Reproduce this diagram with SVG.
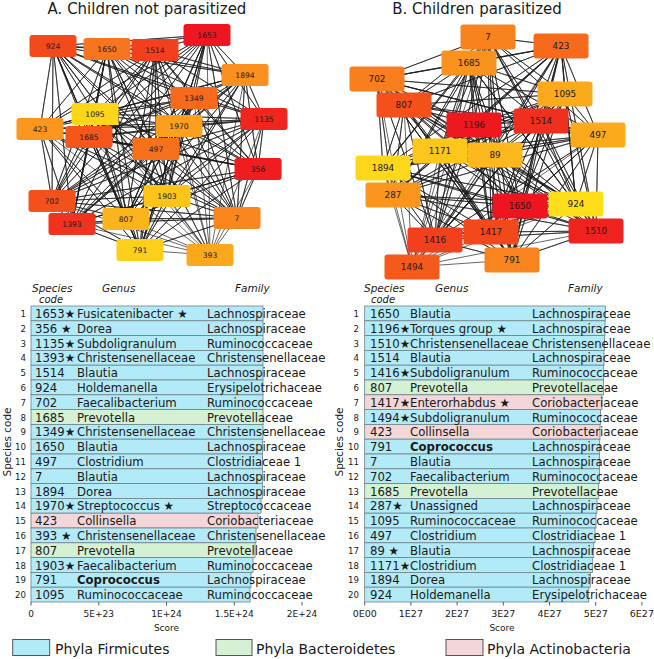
<svg xmlns="http://www.w3.org/2000/svg" width="654" height="659" viewBox="0 0 654 659">
<style>
text{font-family:"DejaVu Sans","Liberation Sans",sans-serif;fill:#1a1a1a}
.title{font-size:15px;text-anchor:middle}
.edges path{fill:none;stroke:#1a1a1a;stroke-width:0.85;stroke-opacity:0.78;stroke-linejoin:round}
.na text{font-size:7.6px;text-anchor:middle}
.nb text{font-size:8.8px;text-anchor:middle}
.hd{font-size:10.5px;font-style:italic}
.hc{font-size:10px;font-style:italic;text-anchor:middle}
.rn{font-size:8.6px;text-anchor:end}
.c{font-size:11.7px}
.b{font-size:11.7px;font-weight:bold}
.ax{font-size:9px;text-anchor:middle}
.axb{font-size:9.5px;text-anchor:middle}
.yl{font-size:10.5px;text-anchor:middle}
.lg{font-size:14px}
.fi{fill:#b3eaf8;stroke:#6f8186;stroke-width:0.8}
.ba{fill:#d5f1d3;stroke:#6f8186;stroke-width:0.8}
.ac{fill:#f2d6d8;stroke:#6f8186;stroke-width:0.8}
.lb{stroke:#555;stroke-width:1}
.tk{stroke:#333;stroke-width:0.8}
</style>

<text class="title" x="147" y="14">A. Children not parasitized</text>
<text class="title" x="477" y="14">B. Children parasitized</text>

<g id="edges-a" class="edges">
<path d="M53 46L107 49 53 46 155 50 53 46 207 35 53 46 245 75 53 46 194 98 53 46 95 114 53 46 264 119 53 46 40 129 53 46 179 126 53 46 89 137 53 46 156 149 53 46 258 169 53 46 167 196 53 46 52 201 53 46 126 219 53 46 237 218 53 46 72 224 53 46 140 250 53 46 210 255"/>
<path d="M107 49L155 50 107 49 207 35 107 49 245 75 107 49 194 98 107 49 95 114 107 49 264 119 107 49 40 129 107 49 179 126 107 49 89 137 107 49 156 149 107 49 258 169 107 49 167 196 107 49 52 201 107 49 126 219 107 49 237 218 107 49 72 224 107 49 140 250 107 49 210 255"/>
<path d="M155 50L207 35 155 50 245 75 155 50 194 98 155 50 95 114 155 50 264 119 155 50 40 129 155 50 179 126 155 50 89 137 155 50 156 149 155 50 258 169 155 50 167 196 155 50 52 201 155 50 126 219 155 50 237 218 155 50 72 224 155 50 140 250 155 50 210 255"/>
<path d="M207 35L245 75 207 35 194 98 207 35 95 114 207 35 264 119 207 35 40 129 207 35 179 126 207 35 89 137 207 35 156 149 207 35 258 169 207 35 167 196 207 35 52 201 207 35 126 219 207 35 237 218 207 35 72 224 207 35 140 250 207 35 210 255"/>
<path d="M245 75L194 98 245 75 95 114 245 75 264 119 245 75 40 129 245 75 179 126 245 75 89 137 245 75 156 149 245 75 258 169 245 75 167 196 245 75 52 201 245 75 126 219 245 75 237 218 245 75 72 224 245 75 140 250 245 75 210 255"/>
<path d="M194 98L95 114 194 98 264 119 194 98 40 129 194 98 179 126 194 98 89 137 194 98 156 149 194 98 258 169 194 98 167 196 194 98 52 201 194 98 126 219 194 98 237 218 194 98 72 224 194 98 140 250 194 98 210 255"/>
<path d="M95 114L264 119 95 114 40 129 95 114 179 126 95 114 89 137 95 114 156 149 95 114 258 169 95 114 167 196 95 114 52 201 95 114 126 219 95 114 237 218 95 114 72 224 95 114 140 250 95 114 210 255"/>
<path d="M264 119L40 129 264 119 179 126 264 119 89 137 264 119 156 149 264 119 258 169 264 119 167 196 264 119 52 201 264 119 126 219 264 119 237 218 264 119 72 224 264 119 140 250 264 119 210 255"/>
<path d="M40 129L179 126 40 129 89 137 40 129 156 149 40 129 258 169 40 129 167 196 40 129 52 201 40 129 126 219 40 129 237 218 40 129 72 224 40 129 140 250 40 129 210 255"/>
<path d="M179 126L89 137 179 126 156 149 179 126 258 169 179 126 167 196 179 126 52 201 179 126 126 219 179 126 237 218 179 126 72 224 179 126 140 250 179 126 210 255"/>
<path d="M89 137L156 149 89 137 258 169 89 137 167 196 89 137 52 201 89 137 126 219 89 137 237 218 89 137 72 224 89 137 140 250 89 137 210 255"/>
<path d="M156 149L258 169 156 149 167 196 156 149 52 201 156 149 126 219 156 149 237 218 156 149 72 224 156 149 140 250 156 149 210 255"/>
<path d="M258 169L167 196 258 169 52 201 258 169 126 219 258 169 237 218 258 169 72 224 258 169 140 250 258 169 210 255"/>
<path d="M167 196L52 201 167 196 126 219 167 196 237 218 167 196 72 224 167 196 140 250 167 196 210 255"/>
<path d="M52 201L126 219 52 201 237 218 52 201 72 224 52 201 140 250 52 201 210 255"/>
<path d="M126 219L237 218 126 219 72 224 126 219 140 250 126 219 210 255"/>
<path d="M237 218L72 224 237 218 140 250 237 218 210 255"/>
<path d="M72 224L140 250 72 224 210 255M140 250L210 255"/>
</g>

<g id="edges-b" class="edges">
<path d="M488 37L561 46 488 37 469 63 488 37 377 79 488 37 565 94 488 37 404 105 488 37 474 125 488 37 541 121 488 37 598 135 488 37 440 151 488 37 495 155 488 37 383 168 488 37 393 195 488 37 520 206 488 37 576 204 488 37 596 231 488 37 491 232 488 37 435 240 488 37 512 260 488 37 412 267"/>
<path d="M561 46L469 63 561 46 377 79 561 46 565 94 561 46 404 105 561 46 474 125 561 46 541 121 561 46 598 135 561 46 440 151 561 46 495 155 561 46 383 168 561 46 393 195 561 46 520 206 561 46 576 204 561 46 596 231 561 46 491 232 561 46 435 240 561 46 512 260 561 46 412 267"/>
<path d="M469 63L377 79 469 63 565 94 469 63 404 105 469 63 474 125 469 63 541 121 469 63 598 135 469 63 440 151 469 63 495 155 469 63 383 168 469 63 393 195 469 63 520 206 469 63 576 204 469 63 596 231 469 63 491 232 469 63 435 240 469 63 512 260 469 63 412 267"/>
<path d="M377 79L565 94 377 79 404 105 377 79 474 125 377 79 541 121 377 79 598 135 377 79 440 151 377 79 495 155 377 79 383 168 377 79 393 195 377 79 520 206 377 79 576 204 377 79 596 231 377 79 491 232 377 79 435 240 377 79 512 260 377 79 412 267"/>
<path d="M565 94L404 105 565 94 474 125 565 94 541 121 565 94 598 135 565 94 440 151 565 94 495 155 565 94 383 168 565 94 393 195 565 94 520 206 565 94 576 204 565 94 596 231 565 94 491 232 565 94 435 240 565 94 512 260 565 94 412 267"/>
<path d="M404 105L474 125 404 105 541 121 404 105 598 135 404 105 440 151 404 105 495 155 404 105 383 168 404 105 393 195 404 105 520 206 404 105 576 204 404 105 596 231 404 105 491 232 404 105 435 240 404 105 512 260 404 105 412 267"/>
<path d="M474 125L541 121 474 125 598 135 474 125 440 151 474 125 495 155 474 125 383 168 474 125 393 195 474 125 520 206 474 125 576 204 474 125 596 231 474 125 491 232 474 125 435 240 474 125 512 260 474 125 412 267"/>
<path d="M541 121L598 135 541 121 440 151 541 121 495 155 541 121 383 168 541 121 393 195 541 121 520 206 541 121 576 204 541 121 596 231 541 121 491 232 541 121 435 240 541 121 512 260 541 121 412 267"/>
<path d="M598 135L440 151 598 135 495 155 598 135 383 168 598 135 393 195 598 135 520 206 598 135 576 204 598 135 596 231 598 135 491 232 598 135 435 240 598 135 512 260 598 135 412 267"/>
<path d="M440 151L495 155 440 151 383 168 440 151 393 195 440 151 520 206 440 151 576 204 440 151 596 231 440 151 491 232 440 151 435 240 440 151 512 260 440 151 412 267"/>
<path d="M495 155L383 168 495 155 393 195 495 155 520 206 495 155 576 204 495 155 596 231 495 155 491 232 495 155 435 240 495 155 512 260 495 155 412 267"/>
<path d="M383 168L393 195 383 168 520 206 383 168 576 204 383 168 596 231 383 168 491 232 383 168 435 240 383 168 512 260 383 168 412 267"/>
<path d="M393 195L520 206 393 195 576 204 393 195 596 231 393 195 491 232 393 195 435 240 393 195 512 260 393 195 412 267"/>
<path d="M520 206L576 204 520 206 596 231 520 206 491 232 520 206 435 240 520 206 512 260 520 206 412 267"/>
<path d="M576 204L596 231 576 204 491 232 576 204 435 240 576 204 512 260 576 204 412 267"/>
<path d="M596 231L491 232 596 231 435 240 596 231 512 260 596 231 412 267"/>
<path d="M491 232L435 240 491 232 512 260 491 232 412 267"/>
<path d="M435 240L512 260 435 240 412 267M512 260L412 267"/>
</g>

<defs>
<rect id="ra" x="-23.5" y="-11" width="47" height="22" rx="3"/>
<rect id="rb" x="-27.5" y="-12.5" width="55" height="25" rx="3"/>
</defs>

<g class="na">
<g id="a924" transform="translate(53,46)"><use href="#ra" fill="#f34a1c"/><text y="2.7">924</text></g>
<g id="a1650" transform="translate(107,49)"><use href="#ra" fill="#f87520"/><text y="2.7">1650</text></g>
<g id="a1514" transform="translate(155,50)"><use href="#ra" fill="#f2401e"/><text y="2.7">1514</text></g>
<g id="a1653" transform="translate(207,35)"><use href="#ra" fill="#ee1620"/><text y="2.7">1653</text></g>
<g id="a1894" transform="translate(245,75)"><use href="#ra" fill="#fb9020"/><text y="2.7">1894</text></g>
<g id="a1349" transform="translate(194,98)"><use href="#ra" fill="#f76a1c"/><text y="2.7">1349</text></g>
<g id="a1095" transform="translate(95,114)"><use href="#ra" fill="#fdd61a"/><text y="2.7">1095</text></g>
<g id="a1135" transform="translate(264,119)"><use href="#ra" fill="#f0261e"/><text y="2.7">1135</text></g>
<g id="a423" transform="translate(40,129)"><use href="#ra" fill="#fb961e"/><text y="2.7">423</text></g>
<g id="a1970" transform="translate(179,126)"><use href="#ra" fill="#fc9f1c"/><text y="2.7">1970</text></g>
<g id="a1685" transform="translate(89,137)"><use href="#ra" fill="#f5561c"/><text y="2.7">1685</text></g>
<g id="a497" transform="translate(156,149)"><use href="#ra" fill="#f7701c"/><text y="2.7">497</text></g>
<g id="a356" transform="translate(258,169)"><use href="#ra" fill="#ef1c20"/><text y="2.7">356</text></g>
<g id="a1903" transform="translate(167,196)"><use href="#ra" fill="#fdc51a"/><text y="2.7">1903</text></g>
<g id="a702" transform="translate(52,201)"><use href="#ra" fill="#f4501c"/><text y="2.7">702</text></g>
<g id="a807" transform="translate(126,219)"><use href="#ra" fill="#fcb41c"/><text y="2.7">807</text></g>
<g id="a7" transform="translate(237,218)"><use href="#ra" fill="#fa861e"/><text y="2.7">7</text></g>
<g id="a1393" transform="translate(72,224)"><use href="#ra" fill="#f0321e"/><text y="2.7">1393</text></g>
<g id="a791" transform="translate(140,250)"><use href="#ra" fill="#fdcf1a"/><text y="2.7">791</text></g>
<g id="a393" transform="translate(210,255)"><use href="#ra" fill="#fca81c"/><text y="2.7">393</text></g>
</g>

<g class="nb">
<g id="b7" transform="translate(488,37)"><use href="#rb" fill="#f9821e"/><text y="3.1">7</text></g>
<g id="b423" transform="translate(561,46)"><use href="#rb" fill="#f76a1c"/><text y="3.1">423</text></g>
<g id="b1685" transform="translate(469,63)"><use href="#rb" fill="#fa921e"/><text y="3.1">1685</text></g>
<g id="b702" transform="translate(377,79)"><use href="#rb" fill="#f97e1e"/><text y="3.1">702</text></g>
<g id="b1095" transform="translate(565,94)"><use href="#rb" fill="#fbaa1c"/><text y="3.1">1095</text></g>
<g id="b807" transform="translate(404,105)"><use href="#rb" fill="#f4501c"/><text y="3.1">807</text></g>
<g id="b1196" transform="translate(474,125)"><use href="#rb" fill="#ee1820"/><text y="3.1">1196</text></g>
<g id="b1514" transform="translate(541,121)"><use href="#rb" fill="#f0301e"/><text y="3.1">1514</text></g>
<g id="b497" transform="translate(598,135)"><use href="#rb" fill="#fbaa1c"/><text y="3.1">497</text></g>
<g id="b1171" transform="translate(440,151)"><use href="#rb" fill="#fcc61a"/><text y="3.1">1171</text></g>
<g id="b89" transform="translate(495,155)"><use href="#rb" fill="#fcb81c"/><text y="3.1">89</text></g>
<g id="b1894" transform="translate(383,168)"><use href="#rb" fill="#fdd81a"/><text y="3.1">1894</text></g>
<g id="b287" transform="translate(393,195)"><use href="#rb" fill="#fa961e"/><text y="3.1">287</text></g>
<g id="b1650" transform="translate(520,206)"><use href="#rb" fill="#ee1420"/><text y="3.1">1650</text></g>
<g id="b924" transform="translate(576,204)"><use href="#rb" fill="#fede18"/><text y="3.1">924</text></g>
<g id="b1510" transform="translate(596,231)"><use href="#rb" fill="#ef2220"/><text y="3.1">1510</text></g>
<g id="b1417" transform="translate(491,232)"><use href="#rb" fill="#f3481c"/><text y="3.1">1417</text></g>
<g id="b1416" transform="translate(435,240)"><use href="#rb" fill="#f2401e"/><text y="3.1">1416</text></g>
<g id="b791" transform="translate(512,260)"><use href="#rb" fill="#f9841e"/><text y="3.1">791</text></g>
<g id="b1494" transform="translate(412,267)"><use href="#rb" fill="#f55a1c"/><text y="3.1">1494</text></g>
</g>

<g id="table-a">
<text class="hd" x="32" y="292">Species</text>
<text class="hc" x="51" y="303">code</text>
<text class="hd" x="102" y="292">Genus</text>
<text class="hd" x="235" y="292">Family</text>
<rect class="fi" x="31" y="306" width="232" height="14.8"/>
<rect class="fi" x="31" y="320.8" width="232" height="14.8"/>
<rect class="fi" x="31" y="335.6" width="232" height="14.8"/>
<rect class="fi" x="31" y="350.4" width="232" height="14.8"/>
<rect class="fi" x="31" y="365.2" width="232" height="14.8"/>
<rect class="fi" x="31" y="380" width="232" height="14.8"/>
<rect class="fi" x="31" y="394.8" width="232" height="14.8"/>
<rect class="ba" x="31" y="409.6" width="232" height="14.8"/>
<rect class="fi" x="31" y="424.4" width="232" height="14.8"/>
<rect class="fi" x="31" y="439.2" width="231.5" height="14.8"/>
<rect class="fi" x="31" y="454" width="231.5" height="14.8"/>
<rect class="fi" x="31" y="468.8" width="231.5" height="14.8"/>
<rect class="fi" x="31" y="483.6" width="231.5" height="14.8"/>
<rect class="fi" x="31" y="498.4" width="230" height="14.8"/>
<rect class="ac" x="31" y="513.2" width="227" height="14.8"/>
<rect class="fi" x="31" y="528" width="225" height="14.8"/>
<rect class="ba" x="31" y="542.8" width="224" height="14.8"/>
<rect class="fi" x="31" y="557.6" width="222" height="14.8"/>
<rect class="fi" x="31" y="572.4" width="220" height="14.8"/>
<rect class="fi" x="31" y="587.2" width="219" height="14.8"/>

<text class="rn" x="26" y="317">1</text><text class="c" x="35" y="318">1653★</text><text class="c" x="77" y="318">Fusicatenibacter ★</text><text class="c" x="207" y="318">Lachnospiraceae</text>
<text class="rn" x="26" y="331.8">2</text><text class="c" x="35" y="332.8">356 ★</text><text class="c" x="77" y="332.8">Dorea</text><text class="c" x="207" y="332.8">Lachnospiraceae</text>
<text class="rn" x="26" y="346.6">3</text><text class="c" x="35" y="347.6">1135★</text><text class="c" x="77" y="347.6">Subdoligranulum</text><text class="c" x="207" y="347.6">Ruminococcaceae</text>
<text class="rn" x="26" y="361.4">4</text><text class="c" x="35" y="362.4">1393★</text><text class="c" x="77" y="362.4">Christensenellaceae</text><text class="c" x="207" y="362.4">Christensenellaceae</text>
<text class="rn" x="26" y="376.2">5</text><text class="c" x="35" y="377.2">1514</text><text class="c" x="77" y="377.2">Blautia</text><text class="c" x="207" y="377.2">Lachnospiraceae</text>
<text class="rn" x="26" y="391">6</text><text class="c" x="35" y="392">924</text><text class="c" x="77" y="392">Holdemanella</text><text class="c" x="207" y="392">Erysipelotrichaceae</text>
<text class="rn" x="26" y="405.8">7</text><text class="c" x="35" y="406.8">702</text><text class="c" x="77" y="406.8">Faecalibacterium</text><text class="c" x="207" y="406.8">Ruminococcaceae</text>
<text class="rn" x="26" y="420.6">8</text><text class="c" x="35" y="421.6">1685</text><text class="c" x="77" y="421.6">Prevotella</text><text class="c" x="207" y="421.6">Prevotellaceae</text>
<text class="rn" x="26" y="435.4">9</text><text class="c" x="35" y="436.4">1349★</text><text class="c" x="77" y="436.4">Christensenellaceae</text><text class="c" x="207" y="436.4">Christensenellaceae</text>
<text class="rn" x="26" y="450.2">10</text><text class="c" x="35" y="451.2">1650</text><text class="c" x="77" y="451.2">Blautia</text><text class="c" x="207" y="451.2">Lachnospiraceae</text>
<text class="rn" x="26" y="465">11</text><text class="c" x="35" y="466">497</text><text class="c" x="77" y="466">Clostridium</text><text class="c" x="207" y="466">Clostridiaceae 1</text>
<text class="rn" x="26" y="479.8">12</text><text class="c" x="35" y="480.8">7</text><text class="c" x="77" y="480.8">Blautia</text><text class="c" x="207" y="480.8">Lachnospiraceae</text>
<text class="rn" x="26" y="494.6">13</text><text class="c" x="35" y="495.6">1894</text><text class="c" x="77" y="495.6">Dorea</text><text class="c" x="207" y="495.6">Lachnospiraceae</text>
<text class="rn" x="26" y="509.4">14</text><text class="c" x="35" y="510.4">1970★</text><text class="c" x="77" y="510.4">Streptococcus ★</text><text class="c" x="207" y="510.4">Streptococcaceae</text>
<text class="rn" x="26" y="524.2">15</text><text class="c" x="35" y="525.2">423</text><text class="c" x="77" y="525.2">Collinsella</text><text class="c" x="207" y="525.2">Coriobacteriaceae</text>
<text class="rn" x="26" y="539">16</text><text class="c" x="35" y="540">393 ★</text><text class="c" x="77" y="540">Christensenellaceae</text><text class="c" x="207" y="540">Christensenellaceae</text>
<text class="rn" x="26" y="553.8">17</text><text class="c" x="35" y="554.8">807</text><text class="c" x="77" y="554.8">Prevotella</text><text class="c" x="207" y="554.8">Prevotellaceae</text>
<text class="rn" x="26" y="568.6">18</text><text class="c" x="35" y="569.6">1903★</text><text class="c" x="77" y="569.6">Faecalibacterium</text><text class="c" x="207" y="569.6">Ruminococcaceae</text>
<text class="rn" x="26" y="583.4">19</text><text class="c" x="35" y="584.4">791</text><text class="b" x="77" y="584.4">Coprococcus</text><text class="c" x="207" y="584.4">Lachnospiraceae</text>
<text class="rn" x="26" y="598.2">20</text><text class="c" x="35" y="599.2">1095</text><text class="c" x="77" y="599.2">Ruminococcaceae</text><text class="c" x="207" y="599.2">Ruminococcaceae</text>

<text class="yl" transform="translate(11,442) rotate(-90)">Species code</text>
<path class="tk" d="M31 602v3.5M98.8 602v3.5M166.5 602v3.5M234.3 602v3.5M302 602v3.5"/>
<text class="ax" x="31" y="616.5">0</text>
<text class="ax" x="98.8" y="616.5">5E+23</text>
<text class="ax" x="166.5" y="616.5">1E+24</text>
<text class="ax" x="234.3" y="616.5">1.5E+24</text>
<text class="ax" x="302" y="616.5">2E+24</text>
<text class="ax" x="166.5" y="631">Score</text>
</g>

<g id="table-b">
<text class="hd" x="364" y="292">Species</text>
<text class="hc" x="383" y="303">code</text>
<text class="hd" x="435" y="292">Genus</text>
<text class="hd" x="568" y="292">Family</text>
<rect class="fi" x="364.7" y="306" width="240.6" height="14.8"/>
<rect class="fi" x="364.7" y="320.8" width="240.3" height="14.8"/>
<rect class="fi" x="364.7" y="335.6" width="239.8" height="14.8"/>
<rect class="fi" x="364.7" y="350.4" width="239.3" height="14.8"/>
<rect class="fi" x="364.7" y="365.2" width="239" height="14.8"/>
<rect class="ba" x="364.7" y="380" width="238.8" height="14.8"/>
<rect class="ac" x="364.7" y="394.8" width="237.3" height="14.8"/>
<rect class="fi" x="364.7" y="409.6" width="235.8" height="14.8"/>
<rect class="ac" x="364.7" y="424.4" width="235.3" height="14.8"/>
<rect class="fi" x="364.7" y="439.2" width="235" height="14.8"/>
<rect class="fi" x="364.7" y="454" width="234.8" height="14.8"/>
<rect class="fi" x="364.7" y="468.8" width="234.8" height="14.8"/>
<rect class="ba" x="364.7" y="483.6" width="234" height="14.8"/>
<rect class="fi" x="364.7" y="498.4" width="232.3" height="14.8"/>
<rect class="fi" x="364.7" y="513.2" width="231.3" height="14.8"/>
<rect class="fi" x="364.7" y="528" width="230.3" height="14.8"/>
<rect class="fi" x="364.7" y="542.8" width="229" height="14.8"/>
<rect class="fi" x="364.7" y="557.6" width="228" height="14.8"/>
<rect class="fi" x="364.7" y="572.4" width="225.6" height="14.8"/>
<rect class="fi" x="364.7" y="587.2" width="224" height="14.8"/>

<text class="rn" x="359" y="317">1</text><text class="c" x="370" y="318">1650</text><text class="c" x="410" y="318">Blautia</text><text class="c" x="532" y="318">Lachnospiraceae</text>
<text class="rn" x="359" y="331.8">2</text><text class="c" x="370" y="332.8">1196★</text><text class="c" x="410" y="332.8">Torques group ★</text><text class="c" x="532" y="332.8">Lachnospiraceae</text>
<text class="rn" x="359" y="346.6">3</text><text class="c" x="370" y="347.6">1510★</text><text class="c" x="410" y="347.6">Christensenellaceae</text><text class="c" x="532" y="347.6">Christensenellaceae</text>
<text class="rn" x="359" y="361.4">4</text><text class="c" x="370" y="362.4">1514</text><text class="c" x="410" y="362.4">Blautia</text><text class="c" x="532" y="362.4">Lachnospiraceae</text>
<text class="rn" x="359" y="376.2">5</text><text class="c" x="370" y="377.2">1416★</text><text class="c" x="410" y="377.2">Subdoligranulum</text><text class="c" x="532" y="377.2">Ruminococcaceae</text>
<text class="rn" x="359" y="391">6</text><text class="c" x="370" y="392">807</text><text class="c" x="410" y="392">Prevotella</text><text class="c" x="532" y="392">Prevotellaceae</text>
<text class="rn" x="359" y="405.8">7</text><text class="c" x="370" y="406.8">1417★</text><text class="c" x="410" y="406.8">Enterorhabdus ★</text><text class="c" x="532" y="406.8">Coriobacteriaceae</text>
<text class="rn" x="359" y="420.6">8</text><text class="c" x="370" y="421.6">1494★</text><text class="c" x="410" y="421.6">Subdoligranulum</text><text class="c" x="532" y="421.6">Ruminococcaceae</text>
<text class="rn" x="359" y="435.4">9</text><text class="c" x="370" y="436.4">423</text><text class="c" x="410" y="436.4">Collinsella</text><text class="c" x="532" y="436.4">Coriobacteriaceae</text>
<text class="rn" x="359" y="450.2">10</text><text class="c" x="370" y="451.2">791</text><text class="b" x="410" y="451.2">Coprococcus</text><text class="c" x="532" y="451.2">Lachnospiraceae</text>
<text class="rn" x="359" y="465">11</text><text class="c" x="370" y="466">7</text><text class="c" x="410" y="466">Blautia</text><text class="c" x="532" y="466">Lachnospiraceae</text>
<text class="rn" x="359" y="479.8">12</text><text class="c" x="370" y="480.8">702</text><text class="c" x="410" y="480.8">Faecalibacterium</text><text class="c" x="532" y="480.8">Ruminococcaceae</text>
<text class="rn" x="359" y="494.6">13</text><text class="c" x="370" y="495.6">1685</text><text class="c" x="410" y="495.6">Prevotella</text><text class="c" x="532" y="495.6">Prevotellaceae</text>
<text class="rn" x="359" y="509.4">14</text><text class="c" x="370" y="510.4">287★</text><text class="c" x="410" y="510.4">Unassigned</text><text class="c" x="532" y="510.4">Lachnospiraceae</text>
<text class="rn" x="359" y="524.2">15</text><text class="c" x="370" y="525.2">1095</text><text class="c" x="410" y="525.2">Ruminococcaceae</text><text class="c" x="532" y="525.2">Ruminococcaceae</text>
<text class="rn" x="359" y="539">16</text><text class="c" x="370" y="540">497</text><text class="c" x="410" y="540">Clostridium</text><text class="c" x="532" y="540">Clostridiaceae 1</text>
<text class="rn" x="359" y="553.8">17</text><text class="c" x="370" y="554.8">89 ★</text><text class="c" x="410" y="554.8">Blautia</text><text class="c" x="532" y="554.8">Lachnospiraceae</text>
<text class="rn" x="359" y="568.6">18</text><text class="c" x="370" y="569.6">1171★</text><text class="c" x="410" y="569.6">Clostridium</text><text class="c" x="532" y="569.6">Clostridiaceae 1</text>
<text class="rn" x="359" y="583.4">19</text><text class="c" x="370" y="584.4">1894</text><text class="c" x="410" y="584.4">Dorea</text><text class="c" x="532" y="584.4">Lachnospiraceae</text>
<text class="rn" x="359" y="598.2">20</text><text class="c" x="370" y="599.2">924</text><text class="c" x="410" y="599.2">Holdemanella</text><text class="c" x="532" y="599.2">Erysipelotrichaceae</text>

<text class="yl" transform="translate(343,442) rotate(-90)">Species code</text>
<path class="tk" d="M364.7 602v3.5M410.9 602v3.5M457.1 602v3.5M503.3 602v3.5M549.5 602v3.5M595.7 602v3.5M641.9 602v3.5"/>
<text class="axb" x="364.7" y="616.5">0E00</text>
<text class="axb" x="410.9" y="616.5">1E27</text>
<text class="axb" x="457.1" y="616.5">2E27</text>
<text class="axb" x="503.3" y="616.5">3E27</text>
<text class="axb" x="549.5" y="616.5">4E27</text>
<text class="axb" x="595.7" y="616.5">5E27</text>
<text class="axb" x="641.9" y="616.5">6E27</text>
<text class="ax" x="502" y="631">Score</text>
</g>

<g id="legend">
<rect class="fi lb" x="12.7" y="639.5" width="37" height="16"/>
<text class="lg" x="55" y="653.5">Phyla Firmicutes</text>
<rect class="ba lb" x="216" y="639.5" width="36" height="16"/>
<text class="lg" x="256" y="653.5">Phyla Bacteroidetes</text>
<rect class="ac lb" x="446" y="639.5" width="37" height="16"/>
<text class="lg" x="487" y="653.5">Phyla Actinobacteria</text>
</g>
</svg>
